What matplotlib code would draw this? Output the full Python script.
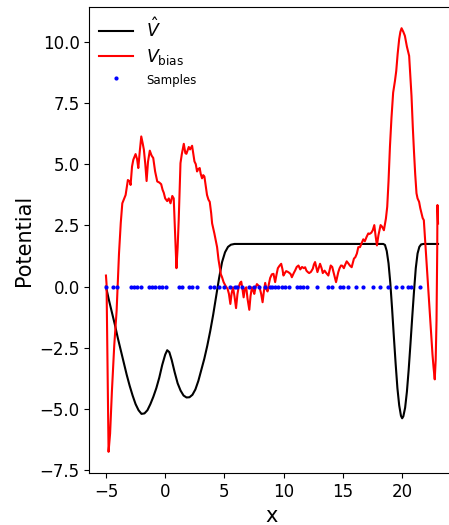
import numpy as np
import matplotlib
matplotlib.use("Agg")
import matplotlib.pyplot as plt

# fitted potential (black)
vhat_x = [-5.0, -4.75, -4.5, -4.25, -4.0, -3.75, -3.5, -3.25, -3.0, -2.75, -2.5, -2.25,
          -2.0, -1.75, -1.5, -1.25, -1.0, -0.75, -0.5, -0.25, 0.0, 0.17, 0.35, 0.55,
          0.8, 1.05, 1.3, 1.55, 1.8, 2.05, 2.3, 2.55, 2.8, 3.05, 3.3, 3.55, 3.8, 4.05,
          4.3, 4.55, 4.8, 5.05, 5.3, 5.55, 5.85, 18.4, 18.55, 18.7, 18.85, 19.0, 19.15,
          19.3, 19.45, 19.6, 19.75, 19.9, 20.0, 20.1, 20.25, 20.4, 20.55, 20.7, 20.85,
          21.0, 21.15, 21.3, 21.45, 21.6, 21.8, 23.03]
vhat_y = [0.0, -0.55, -1.05, -1.55, -2.1, -2.6, -3.1, -3.6, -4.05, -4.45, -4.8, -5.05,
          -5.2, -5.18, -5.05, -4.8, -4.5, -4.15, -3.72, -3.2, -2.78, -2.6, -2.68, -3.0,
          -3.5, -3.95, -4.25, -4.45, -4.53, -4.52, -4.42, -4.2, -3.85, -3.4, -2.95, -2.42,
          -1.82, -1.15, -0.4, 0.35, 1.0, 1.4, 1.62, 1.71, 1.74, 1.74, 1.7, 1.45, 0.95,
          0.15, -0.9, -2.05, -3.15, -4.15, -4.85, -5.28, -5.38, -5.3, -4.95, -4.3, -3.4,
          -2.35, -1.25, -0.2, 0.75, 1.35, 1.62, 1.72, 1.74, 1.74]

# bias potential (red)
vbias_x = [-5.0, -4.95, -4.87, -4.78, -4.65, -4.5, -4.3, -4.1, -3.9, -3.75, -3.62, -3.45,
           -3.34, -3.15, -3.0, -2.92, -2.8, -2.69, -2.5, -2.37, -2.27, -2.15, -2.02, -1.9,
           -1.8, -1.68, -1.57, -1.45, -1.3, -1.15, -1.01, -0.85, -0.67, -0.5, -0.34, -0.22,
           -0.12, 0.0, 0.17, 0.3, 0.45, 0.6, 0.72, 0.85, 0.95, 1.05, 1.14, 1.29, 1.4, 1.57,
           1.7, 1.79, 1.99, 2.1, 2.27, 2.38, 2.47, 2.58, 2.69, 2.8, 2.91, 3.0, 3.11, 3.21,
           3.31, 3.42, 3.53, 3.65, 3.76, 3.88, 3.96, 4.15, 4.38, 4.5, 4.6, 4.7, 4.8, 4.93,
           5.08, 5.27, 5.38, 5.5, 5.6, 5.72, 5.85, 5.98, 6.1, 6.2, 6.32, 6.42, 6.52, 6.62,
           6.72, 6.84, 6.95, 7.1, 7.2, 7.32, 7.42, 7.52, 7.62, 7.74, 7.85, 7.95, 8.1, 8.22,
           8.33, 8.44, 8.54, 8.64, 8.75, 8.86, 9.0, 9.14, 9.28, 9.4, 9.51, 9.65, 9.79, 9.9,
           9.98, 10.1, 10.21, 10.35, 10.5, 10.6, 10.69, 10.85, 10.97, 11.1, 11.25, 11.4,
           11.55, 11.7, 11.81, 11.92, 12.04, 12.15, 12.3, 12.46, 12.55, 12.65, 12.75, 12.85,
           12.95, 13.07, 13.2, 13.3, 13.45, 13.6, 13.77, 13.87, 13.97, 14.1, 14.2, 14.42,
           14.52, 14.61, 14.72, 14.84, 14.95, 15.08, 15.2, 15.32, 15.45, 15.6, 15.74, 15.93,
           16.05, 16.18, 16.3, 16.44, 16.5, 16.6, 16.72, 16.85, 17.0, 17.14, 17.25, 17.4,
           17.52, 17.65, 17.75, 17.87, 18.0, 18.18, 18.3, 18.46, 18.63, 18.74, 18.85, 18.97,
           19.1, 19.24, 19.39, 19.5, 19.62, 19.75, 19.85, 19.95, 20.1, 20.23, 20.4, 20.59,
           20.68, 20.79, 20.9, 21.0, 21.1, 21.21, 21.3, 21.43, 21.53, 21.63, 21.73, 21.83,
           21.95, 22.05, 22.2, 22.33, 22.45, 22.56, 22.65, 22.75, 22.83, 22.9, 22.96, 22.98,
           23.03]
vbias_y = [0.45, 0.1, -3.2, -6.75, -6.0, -4.3, -2.4, -0.99, 1.34, 2.6, 3.4, 3.6,
           3.74, 4.35, 4.3, 4.15, 4.9, 5.18, 5.41, 5.2, 4.84, 5.5, 6.13, 5.85,
           5.59, 5.0, 4.31, 5.1, 5.55, 5.35, 5.25, 4.7, 4.29, 4.25, 4.18, 3.95,
           3.83, 3.6, 3.49, 3.6, 3.4, 3.7, 3.6, 2.0, 0.75, 1.6, 2.71, 5.04, 5.4, 5.83,
           5.45, 5.42, 5.7, 5.6, 5.75, 5.4, 5.11, 5.0, 4.7, 4.8, 4.84, 4.6, 4.42, 4.55,
           4.49, 4.1, 3.74, 3.55, 3.46, 3.0, 2.58, 2.17, 1.61, 1.1, 0.79, 0.5, 0.38, 0.18,
           0.04, -0.1, -0.3, -0.71, -0.3, -0.03, -0.4, -0.88, -0.3, -0.03, 0.15, 0.2, -0.1, -0.44,
           -0.1, -0.03, -0.5, -0.95, -0.4, -0.03, -0.15, -0.3, -0.05, 0.1, 0.05, 0.0, -0.3, -0.64,
           -0.2, 0.15, -0.1, -0.2, 0.1, 0.35, 0.5, 0.52, 0.18, 0.5, 0.75, 0.85, 0.93, 0.7,
           0.45, 0.55, 0.63, 0.6, 0.55, 0.5, 0.38, 0.55, 0.66, 0.8, 0.86, 0.7,
           0.8, 0.75, 0.79, 0.65, 0.59, 0.55, 0.6, 0.73, 0.9, 1.0, 0.8, 0.59,
           0.75, 0.93, 0.75, 0.55, 0.65, 0.55, 0.45, 0.65, 0.86, 0.8, 0.6, 0.18,
           0.4, 0.59, 0.75, 0.86, 0.85, 0.75, 0.9, 1.03, 0.95, 0.85, 0.79, 1.14,
           1.2, 1.35, 1.61, 1.61, 1.68, 1.8, 1.93, 1.85, 2.03, 2.17, 2.15, 2.2,
           2.3, 2.51, 2.1, 1.68, 2.1, 2.51, 2.45, 2.3, 2.78, 3.26, 4.3, 5.72,
           6.9, 7.92, 8.39, 8.8, 9.5, 10.11, 10.4, 10.55, 10.4, 10.24, 9.8, 9.42,
           8.7, 7.78, 6.5, 5.5, 4.6, 3.81, 3.6, 3.46, 3.2, 2.99, 2.8, 2.71,
           1.8, 1.07, -0.1, -1.12, -2.0, -2.77, -3.3, -3.79, -3.0, -1.4, 1.5, 3.33,
           2.58]

# sample locations (plotted on y = 0)
samples = [-4.97, -4.41, -4.04, -2.92, -2.64, -2.36, -2.08, -1.38, -1.09, -0.82, -0.54,
           -0.31, 0.11, 1.15, 1.43, 1.99, 2.27, 2.69, 3.81, 4.15, 4.51, 4.93, 5.44, 5.86,
           6.06, 6.51, 7.04, 7.46, 7.88, 8.44, 8.86, 9.0, 9.27, 9.55, 9.85, 10.13, 10.41,
           11.11, 11.39, 11.67, 11.95, 12.79, 13.77, 14.05, 14.75, 15.03, 15.45, 16.1,
           16.71, 17.55, 18.12, 18.82, 19.47, 19.95, 20.5, 20.78, 21.5]

fig = plt.figure(figsize=(4.49, 5.25), dpi=100)
ax = fig.add_axes([0.199, 0.099, 0.8136, 0.8876])

ax.plot(vhat_x, vhat_y, color='k', lw=1.5, label=r'$\hat{V}$')
ax.plot(vbias_x, vbias_y, color='r', lw=1.5, label=r'$V_{\mathrm{bias}}$')
ax.plot(samples, np.zeros(len(samples)), 'b.', ms=4, label='Samples')

ax.set_xlabel('x', fontsize=15)
ax.set_ylabel('Potential', fontsize=15)
ax.tick_params(labelsize=12)

leg = ax.legend(loc='upper left', frameon=False, fontsize=12,
                borderaxespad=0.2, labelspacing=0.35)
texts = leg.get_texts()
texts[0].set_fontsize(12.5)
texts[1].set_fontsize(12.5)
texts[2].set_fontsize(8.5)

fig.savefig('out.png', dpi=100)
